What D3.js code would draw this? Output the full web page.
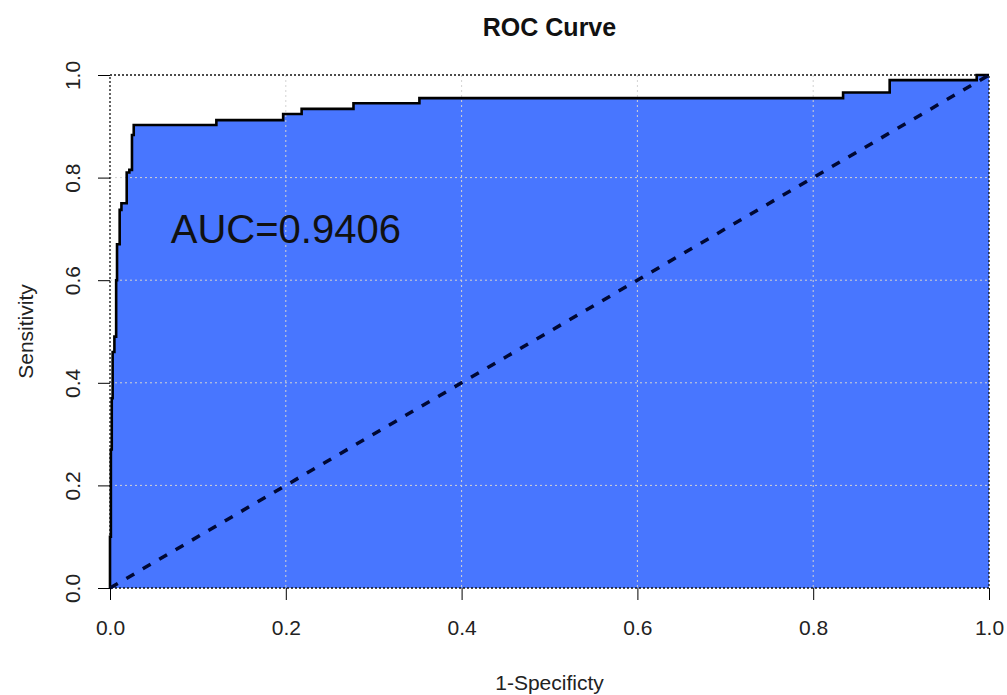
<!DOCTYPE html>
<meta charset="utf-8">
<style>
body { margin: 0; background: #fff; }
text { font-family: "Liberation Sans", Arial, sans-serif; }
.grid line { stroke: #d3d3d3; stroke-width: 1; stroke-dasharray: 2,3; }
.axis text { font-size: 21px; fill: #222; }
.axis line { stroke: #000; }
</style>
<body></body>
<script src="https://d3js.org/d3.v7.min.js"></script>
<script>
// ROC corner points
var fpr = [0, 0, 0.001, 0.001, 0.002, 0.002, 0.003, 0.003, 0.005, 0.005, 0.007, 0.007, 0.008, 0.008,
  0.011, 0.011, 0.013, 0.013, 0.019, 0.019, 0.022, 0.022, 0.025, 0.025, 0.027, 0.027, 0.121, 0.121,
  0.197, 0.197, 0.218, 0.218, 0.277, 0.277, 0.352, 0.352, 0.834, 0.834, 0.887, 0.887, 0.986, 0.986, 1];
var tpr = [0, 0.10, 0.10, 0.27, 0.27, 0.37, 0.37, 0.46, 0.46, 0.49, 0.49, 0.60, 0.60, 0.67, 0.67,
  0.737, 0.737, 0.75, 0.75, 0.81, 0.81, 0.815, 0.815, 0.883, 0.883, 0.9025, 0.9025, 0.912, 0.912,
  0.924, 0.924, 0.934, 0.934, 0.945, 0.945, 0.955, 0.955, 0.966, 0.966, 0.99, 0.99, 1, 1];
var ticks = [0, 0.2, 0.4, 0.6, 0.8, 1.0];
var gridTicks = [0.2, 0.4, 0.6, 0.8];
var diagonal = [[0, 0], [1, 1]];
var aucLabel = "AUC=0.9406";

var W = 1007, H = 695;
var margin = {top: 75, right: 18, bottom: 107, left: 110},
    width = W - margin.left - margin.right,
    height = H - margin.top - margin.bottom;

var svg = d3.select("body").append("svg")
    .attr("width", W)
    .attr("height", H);
var g = svg.append("g")
    .attr("transform", "translate(" + margin.left + "," + margin.top + ")");

var x = d3.scaleLinear().domain([0, 1]).range([0, width]);
var y = d3.scaleLinear().domain([0, 1]).range([height, 0]);

var pts = fpr.map(function(d, i) { return [d, tpr[i]]; });

// filled area under the curve
var area = d3.area()
    .x(function(d) { return x(d[0]); })
    .y0(y(0))
    .y1(function(d) { return y(d[1]); });
g.append("path")
    .datum(pts)
    .attr("d", area)
    .attr("fill", "#4876FF");

// grid
var grid = g.append("g").attr("class", "grid");
grid.selectAll(".gv").data(gridTicks).enter().append("line")
    .attr("x1", function(d) { return x(d); }).attr("x2", function(d) { return x(d); })
    .attr("y1", 0).attr("y2", height);
grid.selectAll(".gh").data(gridTicks).enter().append("line")
    .attr("y1", function(d) { return y(d); }).attr("y2", function(d) { return y(d); })
    .attr("x1", 0).attr("x2", width);

// dotted box
g.append("rect")
    .attr("x", x(0)).attr("y", y(1))
    .attr("width", x(1) - x(0)).attr("height", y(0) - y(1))
    .attr("fill", "none")
    .attr("stroke", "#111")
    .attr("stroke-width", 1.3)
    .attr("stroke-dasharray", "2,2");

// curve
var line = d3.line()
    .x(function(d) { return x(d[0]); })
    .y(function(d) { return y(d[1]); });
g.append("path")
    .datum(pts)
    .attr("d", line)
    .attr("fill", "none")
    .attr("stroke", "#000")
    .attr("stroke-width", 2.6);

// chance diagonal
g.append("path")
    .datum(diagonal)
    .attr("d", line)
    .attr("fill", "none")
    .attr("stroke", "#000833")
    .attr("stroke-width", 3.5)
    .attr("stroke-dasharray", "9,10");

// axes
var fmt = d3.format(".1f");
var xAxis = g.append("g")
    .attr("class", "axis")
    .attr("transform", "translate(0," + height + ")")
    .call(d3.axisBottom(x).tickValues(ticks).tickFormat(fmt).tickSize(12).tickPadding(20));
xAxis.select(".domain").remove();

var yAxis = g.append("g")
    .attr("class", "axis")
    .call(d3.axisLeft(y).tickValues(ticks).tickFormat(fmt).tickSize(12));
yAxis.select(".domain").remove();
yAxis.selectAll("text")
    .attr("x", 0).attr("dy", null)
    .attr("text-anchor", "middle")
    .attr("transform", "translate(-30,0) rotate(-90)");

// AUC text
g.append("text")
    .attr("x", x(0.2))
    .attr("y", y(0.7))
    .attr("dy", "0.36em")
    .attr("text-anchor", "middle")
    .style("font-size", "40px")
    .style("fill", "#111")
    .text(aucLabel);

// title and labels
svg.append("text")
    .attr("x", margin.left + width / 2)
    .attr("y", 36)
    .attr("text-anchor", "middle")
    .style("font-size", "25px")
    .style("font-weight", "bold")
    .style("fill", "#111")
    .text("ROC Curve");

svg.append("text")
    .attr("x", margin.left + width / 2)
    .attr("y", 690)
    .attr("text-anchor", "middle")
    .style("font-size", "21px")
    .style("fill", "#222")
    .text("1-Specificty");

svg.append("text")
    .attr("transform", "translate(33," + (margin.top + height / 2) + ") rotate(-90)")
    .attr("text-anchor", "middle")
    .style("font-size", "21px")
    .style("fill", "#222")
    .text("Sensitivity");
</script>
